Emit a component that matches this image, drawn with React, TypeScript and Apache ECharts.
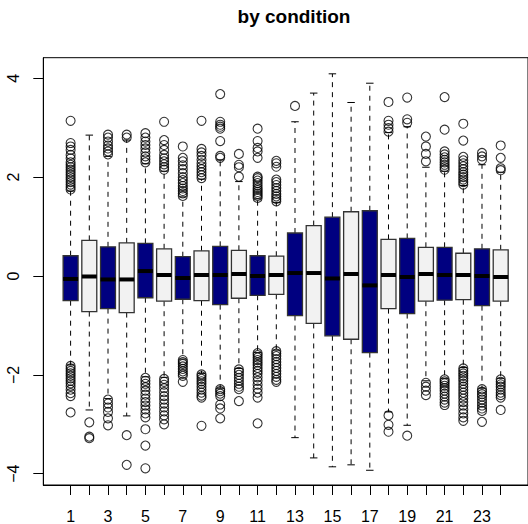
import React, { useEffect, useRef } from "react";
import * as echarts from "echarts";

const categories = Array.from({ length: 24 }, (_, k) => k + 1);
const boxColors = ["#000080", "#F2F2F2"];

const whiskerLow = [-1.80, -2.71, -2.48, -2.83, -2.04, -2.05, -1.68, -1.97, -2.27, -1.87, -1.55, -1.50, -3.27, -3.68, -3.86, -3.82, -3.93, -2.75, -3.02, -2.12, -2.07, -1.85, -2.27, -2.07];
const q1 = [-0.50, -0.72, -0.66, -0.74, -0.44, -0.51, -0.47, -0.50, -0.58, -0.45, -0.39, -0.37, -0.80, -0.96, -1.21, -1.28, -1.55, -0.66, -0.76, -0.51, -0.49, -0.48, -0.60, -0.51];
const median = [-0.06, -0.01, -0.07, -0.07, 0.10, 0.02, -0.04, 0.02, 0.02, 0.04, 0.00, 0.02, 0.06, 0.06, -0.05, 0.04, -0.19, 0.02, -0.02, 0.04, 0.02, 0.02, 0.00, -0.02];
const q3 = [0.41, 0.72, 0.59, 0.67, 0.66, 0.55, 0.39, 0.51, 0.60, 0.52, 0.41, 0.40, 0.87, 1.02, 1.19, 1.30, 1.32, 0.74, 0.76, 0.58, 0.58, 0.46, 0.55, 0.53];
const whiskerHigh = [1.72, 2.85, 2.42, 2.75, 2.27, 2.12, 1.60, 1.96, 2.35, 1.91, 1.56, 1.49, 3.12, 3.70, 4.09, 3.51, 3.90, 2.90, 3.02, 2.20, 2.12, 1.83, 2.25, 2.10];

const outliersHigh = [
  [1.75, 1.8, 1.85, 1.9, 1.95, 2.0, 2.05, 2.1, 2.15, 2.2, 2.25, 2.3, 2.38, 2.45, 2.55, 2.62, 2.69, 3.14],
  [],
  [2.46, 2.52, 2.58, 2.64, 2.72, 2.8, 2.86],
  [2.8, 2.86],
  [2.3, 2.36, 2.42, 2.5, 2.58, 2.65, 2.72, 2.8, 2.89],
  [2.15, 2.2, 2.26, 2.32, 2.38, 2.45, 2.55, 2.65, 2.75, 3.12],
  [1.62, 1.67, 1.72, 1.77, 1.82, 1.88, 1.94, 2.0, 2.08, 2.16, 2.24, 2.32, 2.39, 2.62],
  [1.98, 2.04, 2.1, 2.16, 2.22, 2.28, 2.35, 2.43, 2.5, 2.57, 3.14],
  [2.39, 2.43, 2.73, 2.98, 3.02, 3.06, 3.12, 3.68],
  [2.01, 2.2, 2.25, 2.47],
  [1.58, 1.62, 1.66, 1.7, 1.74, 1.78, 1.83, 1.88, 1.93, 1.98, 2.01, 2.39, 2.52, 2.59, 2.73, 2.98],
  [1.51, 1.56, 1.61, 1.66, 1.72, 1.78, 1.84, 1.9, 1.95, 2.21, 2.28, 2.33],
  [3.44],
  [],
  [],
  [],
  [],
  [2.92, 2.99, 3.06, 3.14, 3.52],
  [3.1, 3.17, 3.61],
  [2.32, 2.47, 2.62, 2.82],
  [2.15, 2.2, 2.25, 2.3, 2.35, 2.4, 2.46, 2.52, 2.96, 3.62],
  [1.85, 1.9, 1.95, 2.0, 2.05, 2.1, 2.16, 2.22, 2.28, 2.34, 2.41, 2.74, 3.08],
  [2.35, 2.42, 2.49],
  [2.14, 2.18, 2.39, 2.64],
];

const outliersLow = [
  [-1.82, -1.87, -1.92, -1.97, -2.02, -2.07, -2.12, -2.17, -2.23, -2.3, -2.37, -2.43, -2.76],
  [-2.96, -3.25, -3.28],
  [-2.5, -2.58, -2.66, -2.75, -2.88, -3.02],
  [-3.22, -3.82],
  [-2.06, -2.12, -2.18, -2.25, -2.32, -2.4, -2.48, -2.55, -2.62, -2.7, -2.78, -2.86, -3.1, -3.43, -3.89],
  [-2.08, -2.14, -2.2, -2.27, -2.35, -2.43, -2.5, -2.58, -2.66, -2.74, -2.82, -2.9, -3.0],
  [-1.7, -1.74, -1.78, -1.83, -1.88, -1.93, -1.98, -2.02, -2.14],
  [-1.99, -2.03, -2.08, -2.13, -2.18, -2.24, -2.3, -2.36, -2.42, -2.46, -3.03],
  [-2.29, -2.33, -2.38, -2.43, -2.6, -2.68, -2.88],
  [-1.89, -1.94, -2.0, -2.06, -2.12, -2.18, -2.24, -2.29, -2.53],
  [-1.56, -1.6, -1.65, -1.7, -1.75, -1.8, -1.86, -1.92, -1.98, -2.05, -2.12, -2.2, -2.28, -2.36, -2.46, -2.98],
  [-1.52, -1.57, -1.62, -1.68, -1.74, -1.8, -1.86, -1.92, -1.98, -2.04, -2.1, -2.14],
  [],
  [],
  [],
  [],
  [],
  [-2.82, -3.01, -3.15],
  [-3.23],
  [-2.16, -2.24, -2.32, -2.41],
  [-2.09, -2.13, -2.17, -2.22, -2.27, -2.32, -2.38, -2.44, -2.5, -2.56, -2.61],
  [-1.87, -1.92, -1.97, -2.02, -2.07, -2.12, -2.18, -2.24, -2.3, -2.36, -2.42, -2.48, -2.55, -2.62, -2.7, -2.78, -2.86, -2.93],
  [-2.29, -2.34, -2.39, -2.44, -2.5, -2.56, -2.62, -2.68, -2.73, -2.95],
  [-2.09, -2.14, -2.19, -2.24, -2.3, -2.36, -2.41, -2.46, -2.71],
];

const yTicks = [-4, -2, 0, 2, 4];
const xLabelTicks = categories.filter((c) => c % 2 === 1);

const FONT = "Liberation Sans, Arial, Helvetica, sans-serif";

export default function App() {
  const ref = useRef<HTMLDivElement>(null);

  useEffect(() => {
    document.body.style.margin = "0";
    const chart = echarts.init(ref.current!, undefined, { renderer: "svg" });

    const boxData = categories.map((c, k) => [c, whiskerLow[k], q1[k], median[k], q3[k], whiskerHigh[k]]);
    const outlierData: number[][] = [];
    categories.forEach((c, k) => {
      outliersHigh[k].forEach((v) => outlierData.push([c, v]));
      outliersLow[k].forEach((v) => outlierData.push([c, v]));
    });

    const option: any = {
      animation: false,
      backgroundColor: "#ffffff",
      title: {
        text: "by condition",
        left: 289,
        top: 2,
        textAlign: "center",
        textStyle: { fontFamily: FONT, fontWeight: "bold", fontSize: 19, color: "#000" },
      },
      grid: {
        left: 43.3,
        top: 57.7,
        width: 491,
        height: 428.3,
        show: true,
        borderColor: "#000",
        borderWidth: 1,
        backgroundColor: "transparent",
      },
      xAxis: {
        type: "value",
        min: -0.46,
        max: 25.46,
        axisLine: { show: true, onZero: false, lineStyle: { color: "#000", width: 1 } },
        axisTick: { show: true, length: 10, customValues: categories, lineStyle: { color: "#000" } },
        axisLabel: { show: true, customValues: xLabelTicks, margin: 23, fontFamily: FONT, fontSize: 16, color: "#000" },
        splitLine: { show: false },
      },
      yAxis: {
        type: "value",
        min: -4.228,
        max: 4.416,
        axisLine: { show: true, onZero: false, lineStyle: { color: "#000", width: 1 } },
        axisTick: { show: true, length: 10, customValues: yTicks, lineStyle: { color: "#000" } },
        axisLabel: {
          show: true,
          customValues: yTicks,
          rotate: 90,
          margin: 22,
          fontFamily: FONT,
          fontSize: 16,
          color: "#000",
          formatter: (v: number) => String(v).replace("-", "\u2212"),
        },
        splitLine: { show: false },
      },
      series: [
        {
          type: "custom",
          data: boxData,
          encode: { x: 0, y: [1, 2, 3, 4, 5] },
          z: 2,
          renderItem: (params: any, api: any) => {
            const x = api.value(0);
            const lo = api.coord([x, api.value(1)]);
            const b1 = api.coord([x, api.value(2)]);
            const md = api.coord([x, api.value(3)]);
            const b3 = api.coord([x, api.value(4)]);
            const hi = api.coord([x, api.value(5)]);
            const w = api.size([0.8, 0])[0];
            const cx = lo[0];
            const fill = boxColors[params.dataIndex % 2];
            const dash = { stroke: "#000", lineWidth: 1, lineDash: [5, 5] };
            const solid = { stroke: "#000", lineWidth: 1 };
            return {
              type: "group",
              children: [
                { type: "line", shape: { x1: cx, y1: b3[1], x2: cx, y2: hi[1] }, style: dash },
                { type: "line", shape: { x1: cx, y1: b1[1], x2: cx, y2: lo[1] }, style: dash },
                { type: "line", shape: { x1: cx - w / 4, y1: hi[1], x2: cx + w / 4, y2: hi[1] }, style: solid },
                { type: "line", shape: { x1: cx - w / 4, y1: lo[1], x2: cx + w / 4, y2: lo[1] }, style: solid },
                {
                  type: "rect",
                  shape: { x: cx - w / 2, y: b3[1], width: w, height: b1[1] - b3[1] },
                  style: { fill, stroke: "#333", lineWidth: 1.3 },
                },
                { type: "line", shape: { x1: cx - w / 2, y1: md[1], x2: cx + w / 2, y2: md[1] }, style: { stroke: "#000", lineWidth: 4 } },
              ],
            };
          },
        },
        {
          type: "scatter",
          data: outlierData,
          symbol: "circle",
          symbolSize: 9,
          z: 3,
          itemStyle: { color: "rgba(0,0,0,0)", borderColor: "#000", borderWidth: 1.1 },
        },
      ],
    };

    chart.setOption(option);
    return () => chart.dispose();
  }, []);

  return <div ref={ref} style={{ position: "fixed", left: 0, top: 0, width: 528, height: 524 }} />;
}
